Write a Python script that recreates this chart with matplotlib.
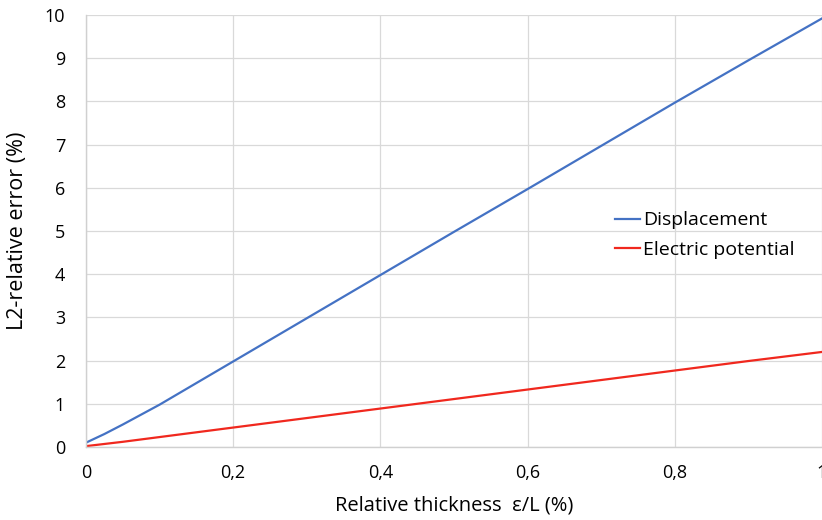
import matplotlib
matplotlib.use("Agg")
from matplotlib import pyplot as plt
from matplotlib.ticker import FuncFormatter, MultipleLocator

# relative thickness eps/L (%)
thickness = [0.0, 0.025, 0.05, 0.1, 0.15, 0.2, 0.3, 0.4, 0.5, 0.6, 0.7, 0.8, 0.9, 1.0]
# L2-relative error (%)
displacement = [0.10, 0.30, 0.52, 0.98, 1.48, 1.98, 2.98, 3.98, 4.98, 5.97, 6.97, 7.97, 8.95, 9.92]
electric_potential = [0.02, 0.07, 0.12, 0.23, 0.34, 0.45, 0.67, 0.89, 1.11, 1.33, 1.55, 1.77, 1.99, 2.20]

plt.rcParams["font.family"] = ["Open Sans", "DejaVu Sans"]

fig = plt.figure(figsize=(8.22, 5.2), dpi=100)
ax = fig.add_axes([0.1046, 0.1404, 0.8954, 0.8308])

ax.plot(thickness, displacement, color="#4472C4", lw=1.6, label="Displacement")
ax.plot(thickness, electric_potential, color="#F0281E", lw=1.6, label="Electric potential")

ax.set_xlim(0, 1)
ax.set_ylim(0, 10)
ax.xaxis.set_major_locator(MultipleLocator(0.2))
ax.yaxis.set_major_locator(MultipleLocator(1))
ax.xaxis.set_major_formatter(FuncFormatter(lambda v, _: f"{v:g}".replace(".", ",")))

ax.grid(True, color="#d9d9d9", lw=0.9)
ax.set_axisbelow(True)
for side in ("top", "right"):
    ax.spines[side].set_visible(False)
for side in ("left", "bottom"):
    ax.spines[side].set_color("#d0d0d0")
    ax.spines[side].set_linewidth(1.0)
ax.tick_params(length=0, labelsize=13, colors="#000000")
ax.tick_params(axis="x", pad=12)
ax.tick_params(axis="y", pad=15)

ax.set_ylabel("L2-relative error (%)", fontsize=15.5, labelpad=12)
ax.set_xlabel("Relative thickness  \u03b5/L (%)", fontsize=14.5, labelpad=10)

ax.legend(
    loc="center left",
    bbox_to_anchor=(0.695, 0.49),
    frameon=False,
    fontsize=14,
    handlelength=1.3,
    handletextpad=0.15,
    labelspacing=0.6,
)

plt.savefig("out.png", dpi=100)
